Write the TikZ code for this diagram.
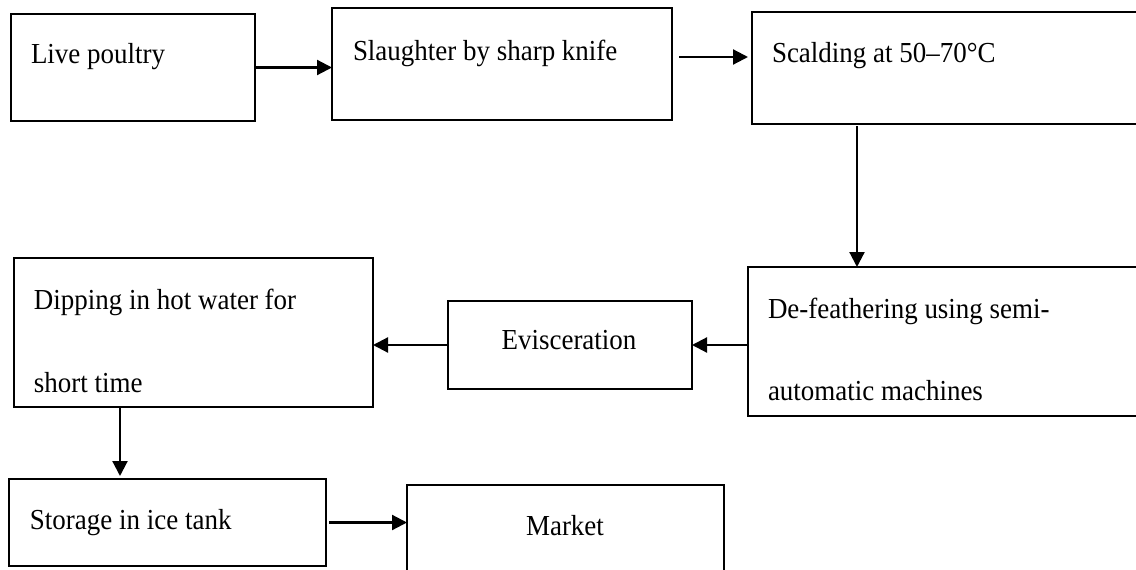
\documentclass[tikz,border=0pt]{standalone}
\usepackage{fontspec}
\setmainfont{Liberation Serif}[FakeStretch=0.93]
\usetikzlibrary{arrows.meta}
\begin{document}
\begin{tikzpicture}[x=1pt,y=-1pt,
  boxnode/.style={draw=black,line width=2.2pt,rectangle,inner sep=0pt,outer sep=0pt},
  lbl/.style={inner sep=0pt,outer sep=0pt,anchor=base west,font=\fontsize{29}{34}\selectfont},
  clbl/.style={inner sep=0pt,outer sep=0pt,anchor=base,font=\fontsize{29}{34}\selectfont},
  arr/.style={line width=2.2pt,-{Triangle[length=15pt,width=15pt]}}]
\useasboundingbox (0,0) rectangle (1136,570);
\clip (0,0) rectangle (1136,570);
\fill[white] (0,0) rectangle (1136,570);
% boxes
\node[boxnode,minimum width=244pt,minimum height=107pt] (A) at (133,67.5) {};
\node[boxnode,minimum width=340pt,minimum height=112pt] (B) at (502,64) {};
\node[boxnode,minimum width=398pt,minimum height=112pt] (C) at (951,68) {};
\node[boxnode,minimum width=402pt,minimum height=149pt] (D) at (949,341.5) {};
\node[boxnode,minimum width=244pt,minimum height=88pt] (E) at (570,345) {};
\node[boxnode,minimum width=359pt,minimum height=149pt] (F) at (193.5,332.5) {};
\node[boxnode,minimum width=317pt,minimum height=87pt] (G) at (167.5,522.5) {};
\node[boxnode,minimum width=317pt,minimum height=115pt] (H) at (565.5,542.5) {};
% texts
\node[lbl] (tA) at (31,63) {Live poultry};
\node[lbl] (tB) at (353,60) {Slaughter by sharp knife};
\node[lbl] (tC) at (772,62) {Scalding at 50–70°C};
\node[lbl] (tD1) at (768,318) {De-feathering using semi-};
\node[lbl] (tD2) at (768,400) {automatic machines};
\node[clbl] (tE) at (569,349) {Evisceration};
\node[lbl] (tF1) at (34,309) {Dipping in hot water for};
\node[lbl] (tF2) at (34,392) {short time};
\node[lbl] (tG) at (30,529) {Storage in ice tank};
\node[clbl] (tH) at (565,535) {Market};
% connectors
\draw[arr] (A.east) -- (A.east -| B.west);
\draw[arr,shorten <=7pt,shorten >=4pt] ([yshift=7pt]B.east) -- ([yshift=7pt]B.east -| C.west);
\coordinate (c1) at ([xshift=105pt]C.south west);
\draw[arr,shorten <=2pt] (c1) -- (c1 |- D.north);
\draw[arr] (E.east -| D.west) -- (E.east);
\draw[arr] (E.west) -- (E.west -| F.east);
\coordinate (f1) at ([xshift=106pt]F.south west);
\draw[arr,shorten >=3pt] (f1) -- (f1 |- G.north);
\draw[arr,shorten <=3pt] (G.east) -- (G.east -| H.west);
\end{tikzpicture}
\end{document}
